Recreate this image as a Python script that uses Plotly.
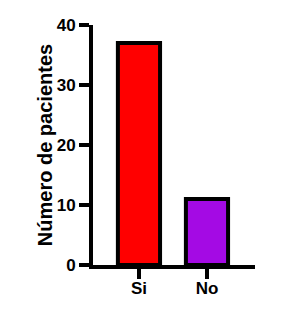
import plotly.graph_objects as go

categories = ["Si", "No"]
values = [37, 11]
colors = ["#FF0000", "#A40AE4"]
y_ticks = [0, 10, 20, 30, 40]

fig = go.Figure()
fig.add_trace(go.Bar(
    x=categories, y=values, width=0.62,
    marker=dict(color=colors, line=dict(color="black", width=4)),
))

font = "Liberation Sans, Arial, sans-serif"
fig.update_layout(
    width=292, height=328,
    margin=dict(l=93, r=37, t=25, b=63),
    paper_bgcolor="white", plot_bgcolor="white",
    showlegend=False,
    font=dict(family=font, color="black"),
    xaxis=dict(
        range=[-0.676, 1.706],
        showline=True, linewidth=4, linecolor="black",
        ticks="outside", ticklen=10, tickwidth=4, tickcolor="black",
        tickfont=dict(size=17, family=font, weight="bold"),
        ticklabelstandoff=-5,
        showgrid=False, zeroline=False,
    ),
    yaxis=dict(
        range=[0, 40], tickvals=y_ticks,
        showline=True, linewidth=4, linecolor="black",
        ticks="outside", ticklen=10, tickwidth=4, tickcolor="black",
        tickfont=dict(size=17, family=font, weight="bold"),
        showgrid=False, zeroline=False,
        title=dict(text="<b>Número de pacientes</b>", font=dict(size=20, family=font), standoff=0),
    ),
)
fig.write_html("out.html")
